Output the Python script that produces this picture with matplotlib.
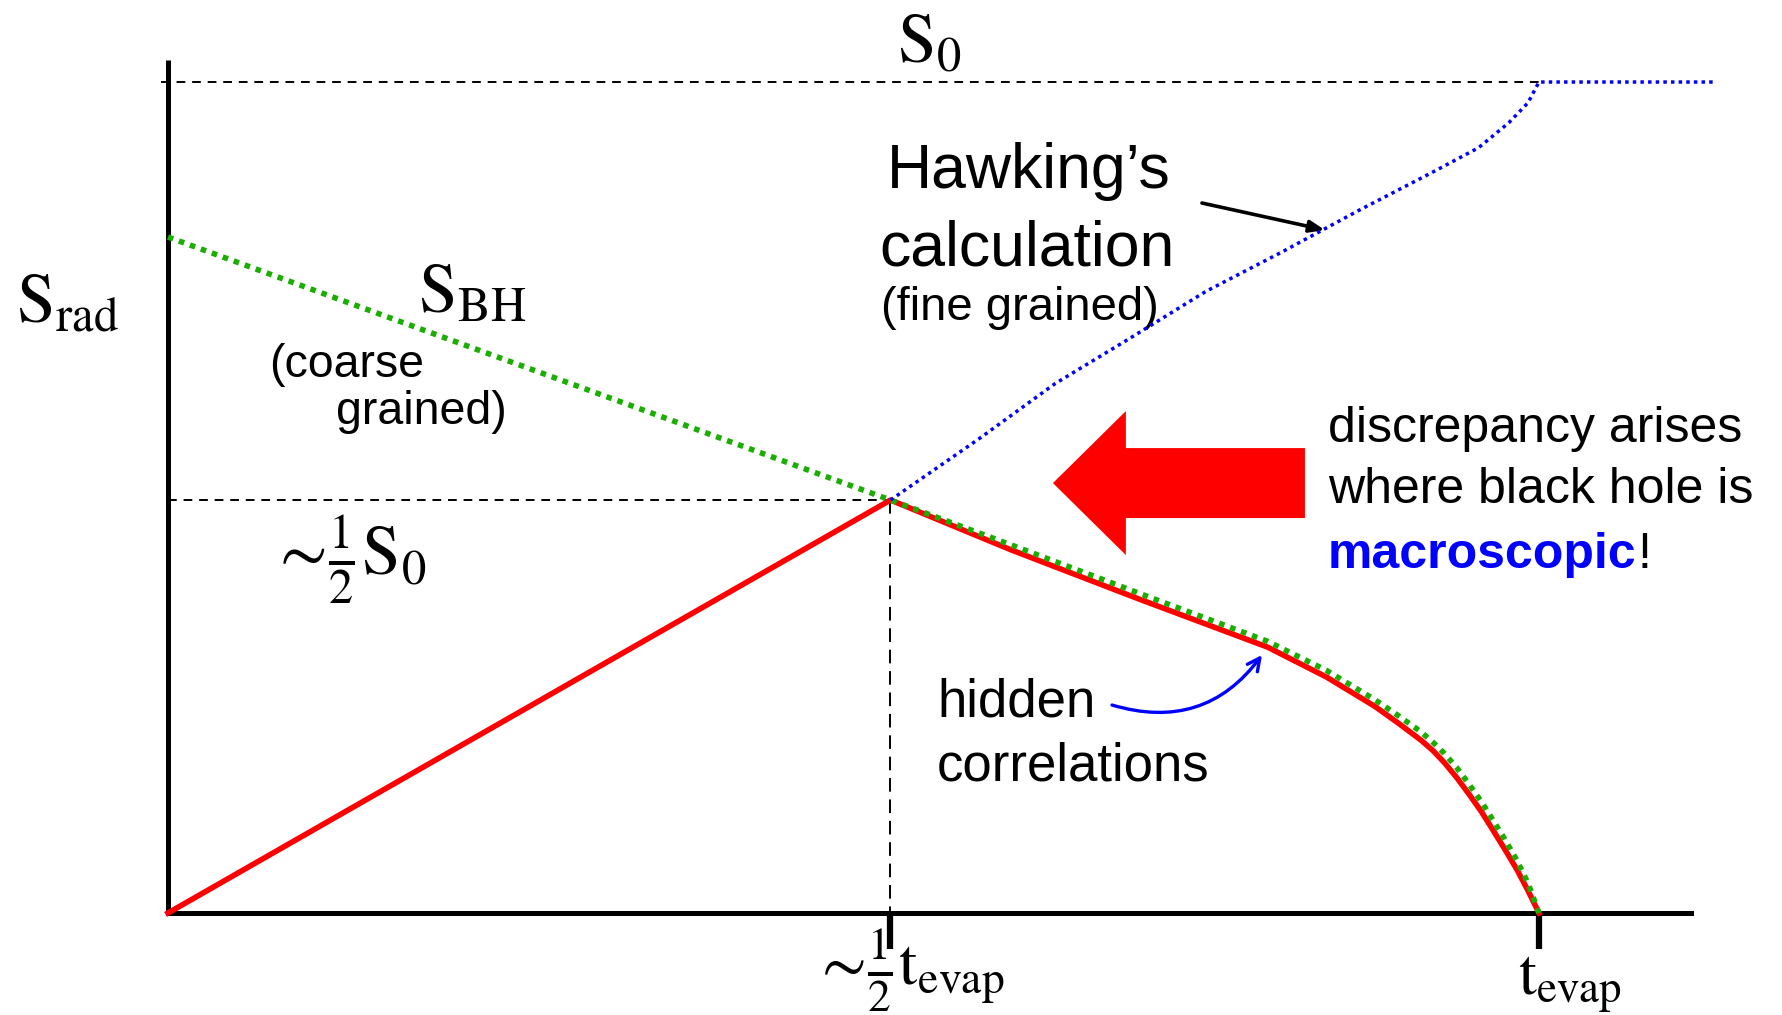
import matplotlib
matplotlib.use("Agg")
import matplotlib.pyplot as plt
from matplotlib.patches import FancyArrow

plt.rcParams['mathtext.fontset'] = 'stix'
plt.rcParams['font.family'] = ['Liberation Sans', 'DejaVu Sans']

# ---------------- data (t in units of t_evap, S in units of S0) ----------------
S0 = 1.0
t_half = 0.527
S_half = 0.497
t_evap = 1.0

# Page curve (red, fine-grained true entropy of radiation)
t_page = [0.0, 0.527, 0.615, 0.708, 0.802, 0.845, 0.880, 0.897, 0.914, 0.923, 0.931,
          0.940, 0.949, 0.958, 0.966, 0.975, 0.984, 0.992, 1.0]
s_page = [0.0, 0.497, 0.437, 0.378, 0.320, 0.284, 0.249, 0.229, 0.208, 0.195, 0.181,
          0.163, 0.143, 0.122, 0.101, 0.077, 0.052, 0.027, 0.0]

# Bekenstein-Hawking entropy (green, coarse grained)
t_bh = [0.0, 0.527, 0.615, 0.708, 0.802, 0.845, 0.880, 0.897, 0.914, 0.923, 0.931,
        0.940, 0.949, 0.958, 0.966, 0.975, 0.984, 0.992, 1.0]
s_bh = [0.8135, 0.497, 0.443, 0.385, 0.327, 0.292, 0.257, 0.238, 0.218, 0.205, 0.192,
        0.175, 0.155, 0.134, 0.113, 0.089, 0.063, 0.036, 0.0]

# Hawking's calculation (blue)
t_hawk = [0.527, 0.591, 0.647, 0.702, 0.757, 0.812, 0.868, 0.923, 0.956, 0.978, 0.992, 1.0, 1.128]
s_hawk = [0.497, 0.570, 0.637, 0.692, 0.748, 0.795, 0.845, 0.892, 0.921, 0.951, 0.975, 1.0, 1.0]

x_ticks = [t_half, t_evap]

# ---------------- figure ----------------
fig = plt.figure(figsize=(17.83, 10.15), dpi=100)
ax = fig.add_axes([0, 0, 1, 1])
ax.set_xlim(-0.1225, 1.178)
ax.set_ylim(-0.1227, 1.0987)

for side in ['top', 'right']:
    ax.spines[side].set_visible(False)
ax.spines['left'].set_position(('data', 0))
ax.spines['bottom'].set_position(('data', 0))
ax.spines['left'].set_bounds(0, 1.0265)
ax.spines['bottom'].set_bounds(0, 1.111)
ax.spines['left'].set_linewidth(3.6)
ax.spines['bottom'].set_linewidth(3.6)
ax.spines['left'].set_capstyle('butt')
ax.set_yticks([])
ax.set_xticks(x_ticks)
ax.set_xticklabels(['', ''])
ax.tick_params(axis='x', direction='out', length=26, width=4.5, color='black')
ax.patch.set_visible(False)

# reference dashed lines
ax.plot([-0.005, t_evap], [S0, S0], color='black', lw=1.4, ls=(0, (4.5, 3.5)))
ax.plot([0, t_half], [S_half, S_half], color='black', lw=1.4, ls=(0, (4.5, 3.5)))
ax.plot([t_half, t_half], [S_half, 0], color='black', lw=1.4, ls=(0, (7, 4)))

# curves
ax.plot(t_page, s_page, color='#ff0000', lw=4.0, solid_joinstyle='round', zorder=3)
ax.plot(t_bh, s_bh, color='#1aae00', lw=4.0, ls=(0, (1, 1.1)), dash_capstyle='butt', zorder=4)
ax.plot(t_hawk, s_hawk, color='#0000ff', lw=2.5, ls=(0, (1, 1.2)), dash_capstyle='butt', zorder=4)

# ---------------- labels ----------------
serif_size = 50
ax.text(0.5317, 1.0241, r'$\mathrm{S}_0$', fontsize=serif_size, ha='left', va='baseline')
ax.text(-0.1105, 0.7112, r'$\mathrm{S}_{\mathrm{rad}}$', fontsize=serif_size, ha='left', va='baseline')
ax.text(0.1823, 0.7220, r'$\mathrm{S}_{\mathrm{BH}}$', fontsize=serif_size, ha='left', va='baseline')
ax.text(0.0735, 0.4055, r'$\sim\!\frac{1}{2}\mathrm{S}_0$', fontsize=serif_size, ha='left', va='baseline')
ax.text(0.4700, -0.0866, r'$\sim\!\frac{1}{2}\mathrm{t}_{\mathrm{evap}}$', fontsize=47, ha='left', va='baseline')
ax.text(0.9847, -0.0987, r'$\mathrm{t}_{\mathrm{evap}}$', fontsize=46, ha='left', va='baseline')

ax.text(0.0737, 0.645, '(coarse', fontsize=33.5, ha='left', va='baseline')
ax.text(0.1225, 0.5884, 'grained)', fontsize=33.5, ha='left', va='baseline')

ax.text(0.628, 0.8724, 'Hawking\u2019s', fontsize=45, ha='center', va='baseline')
ax.text(0.6265, 0.7798, 'calculation', fontsize=45, ha='center', va='baseline')
ax.text(0.6214, 0.7136, '(fine grained)', fontsize=34, ha='center', va='baseline')

ax.text(0.8461, 0.5668, 'discrepancy arises', fontsize=36, ha='left', va='baseline')
ax.text(0.8461, 0.4934, 'where black hole is', fontsize=36, ha='left', va='baseline')
mtxt = ax.text(0.8461, 0.4152, 'macroscopic', fontsize=36, fontweight='bold', color='#0000ff',
               ha='left', va='baseline')
ax.annotate('!', xy=(1, 0), xycoords=mtxt, xytext=(1, 0), textcoords='offset points',
            fontsize=36, ha='left', va='bottom', color='black')

ax.text(0.5609, 0.2359, 'hidden', fontsize=38, ha='left', va='baseline')
ax.text(0.5609, 0.160, 'correlations', fontsize=38, ha='left', va='baseline')

# ---------------- arrows ----------------
ax.annotate('', xy=(0.8439, 0.8219), xytext=(0.7542, 0.8544),
            arrowprops=dict(arrowstyle='-|>,head_length=0.9,head_width=0.35', lw=2.6, color='black',
                            shrinkA=0, shrinkB=0))
ax.annotate('', xy=(0.7980, 0.3105), xytext=(0.6886, 0.2503),
            arrowprops=dict(arrowstyle='->,head_length=0.9,head_width=0.45', lw=2.4, color='#0000ff',
                            shrinkA=0, shrinkB=0, connectionstyle='arc3,rad=0.35'))

big = FancyArrow(0.8293, 0.5174, -0.1838, 0.0, width=0.0842, head_width=0.1733,
                 head_length=0.0532, length_includes_head=True, color='#ff0000', lw=0)
ax.add_patch(big)

fig.savefig('out.png', dpi=100)
